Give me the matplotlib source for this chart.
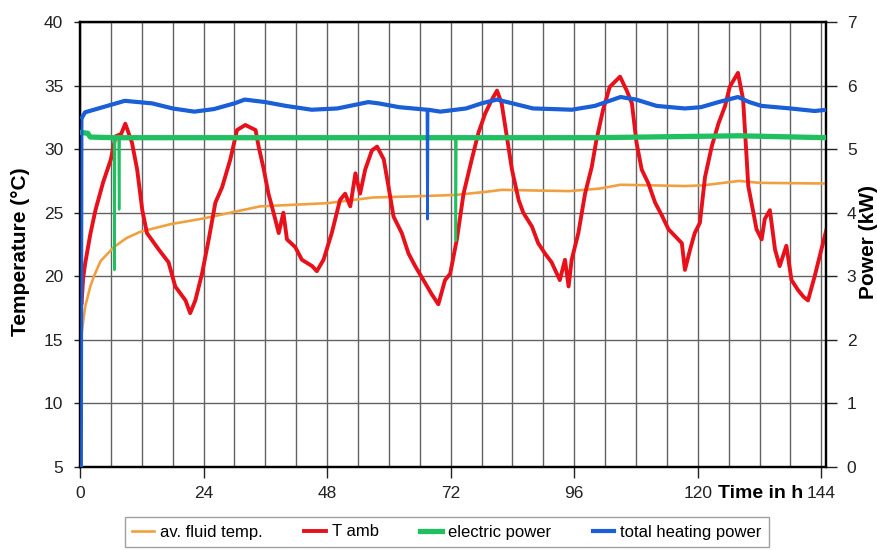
import matplotlib
matplotlib.use("Agg")
import matplotlib.pyplot as plt
import numpy as np
from matplotlib.ticker import MultipleLocator

plt.rcParams['font.family'] = ['Liberation Sans', 'DejaVu Sans']

# ---- data ----
tamb_h = [0.0, 0.3, 0.6, 1.0, 2.0, 3.0, 4.5, 6.0, 6.9, 8.0, 8.8, 9.5, 10.1, 11.1, 12.1, 13.0,
          15.3, 17.2, 18.5, 20.5, 21.4, 22.4, 23.7, 25.0, 26.3, 27.6, 29.2, 30.5, 32.1, 34.1,
          34.7, 35.7, 36.6, 37.6, 38.6, 39.5, 40.2, 41.8, 43.1, 45.1, 46.0, 47.3, 48.9, 50.5,
          51.5, 52.5, 53.5, 54.4, 55.4, 56.7, 57.7, 59.0, 59.9, 60.9, 62.5, 63.8, 65.1, 67.0,
          68.3, 69.6, 70.9, 71.9, 73.2, 74.5, 76.1, 77.4, 78.7, 80.0, 81.0, 81.9, 82.9, 83.9,
          85.2, 86.1, 87.8, 89.0, 90.3, 91.6, 93.2, 94.2, 94.9, 95.5, 96.8, 98.1, 99.4, 100.3,
          101.6, 102.9, 104.9, 106.2, 107.2, 108.1, 109.1, 110.4, 111.7, 113.0, 114.3, 116.2,
          116.9, 117.5, 118.5, 119.4, 120.4, 121.4, 122.7, 124.0, 125.3, 126.2, 127.8, 128.8,
          129.5, 129.8, 130.8, 131.4, 132.4, 133.0, 134.0, 135.0, 135.9, 137.2, 138.2, 139.5,
          140.5, 141.4, 142.7, 144.0, 145.0]
tamb_t = [18.2, 17.8, 19.8, 21.0, 23.3, 25.2, 27.4, 29.2, 31.0, 31.2, 32.0, 31.2, 30.5, 28.4, 25.2, 23.4,
          22.1, 21.1, 19.2, 18.1, 17.1, 18.1, 20.2, 22.9, 25.8, 27.0, 29.2, 31.5, 31.9, 31.5,
          30.2, 28.4, 26.5, 25.0, 23.4, 25.0, 22.9, 22.3, 21.3, 20.8, 20.4, 21.3, 23.4, 26.0,
          26.5, 25.5, 28.1, 26.5, 28.4, 29.9, 30.2, 29.2, 27.1, 24.7, 23.4, 21.8, 20.8, 19.5,
          18.6, 17.8, 19.7, 20.2, 22.9, 26.5, 29.2, 31.3, 32.8, 33.9, 34.6, 33.6, 31.0, 28.4,
          26.0, 25.0, 23.9, 22.6, 21.8, 21.1, 19.7, 21.3, 19.2, 21.3, 23.4, 26.5, 28.6, 30.7,
          33.1, 34.9, 35.7, 34.6, 33.6, 30.5, 28.4, 27.3, 25.8, 24.8, 23.7, 22.9,
          22.6, 20.5, 22.1, 23.4, 24.2, 27.8, 30.2, 32.0, 33.4, 34.9, 36.0, 33.9,
          29.2, 27.1, 25.0, 23.7, 22.9, 24.5, 25.2, 22.1, 20.8, 22.4, 19.7, 18.9,
          18.4, 18.1, 20.0, 22.1, 23.7]

fluid_h = [0.0, 0.3, 1.0, 2.0, 2.7, 4.0, 6.6, 9.0, 11.7, 17.6, 24.0, 28.0, 35.0, 48.0, 57.0,
           66.0, 73.0, 79.0, 82.0, 88.0, 95.0, 101.0, 105.0, 117.5, 121.0, 128.0, 132.0, 144.0, 145.0]
fluid_t = [13.6, 15.5, 17.6, 19.2, 20.0, 21.2, 22.3, 23.0, 23.5, 24.1, 24.55, 24.9, 25.5, 25.75, 26.2,
           26.3, 26.4, 26.65, 26.8, 26.75, 26.7, 26.9, 27.2, 27.1, 27.15, 27.5, 27.35, 27.3, 27.3]

elec_h = [0.4, 1.5, 2.0, 6.6, 6.7, 6.8, 7.5, 7.6, 7.7, 30.0, 60.0, 72.9, 73.0, 73.1, 100.0, 128.0, 145.0]
elec_p = [5.26, 5.25, 5.19, 5.18, 3.1, 5.18, 5.18, 4.05, 5.18, 5.18, 5.18, 5.18, 3.56, 5.18, 5.18, 5.21, 5.18]

heat_h = [0.0, 0.3, 0.4, 1.0, 4.0, 8.7, 14.0, 18.0, 22.2, 26.0, 30.0, 32.0, 36.0, 40.0, 45.0,
          50.0, 56.0, 58.0, 62.0, 67.4, 67.5, 67.6, 70.0, 75.0, 78.0, 81.0, 84.0, 88.0, 92.0,
          95.5, 100.0, 105.0, 108.0, 112.0, 117.5, 120.6, 124.0, 127.8, 130.0, 132.4, 138.0,
          142.7, 145.0]
heat_p = [0.0, 0.0, 5.5, 5.58, 5.65, 5.76, 5.72, 5.64, 5.59, 5.63, 5.72, 5.78, 5.74, 5.68, 5.62,
          5.64, 5.74, 5.72, 5.66, 5.62, 3.9, 5.62, 5.59, 5.64, 5.72, 5.78, 5.72, 5.64, 5.63,
          5.62, 5.68, 5.82, 5.78, 5.68, 5.64, 5.66, 5.74, 5.82, 5.74, 5.68, 5.64,
          5.6, 5.62]

x_ticks = [0, 24, 48, 72, 96, 120, 144]
t_ticks = [5, 10, 15, 20, 25, 30, 35, 40]
p_ticks = [0, 1, 2, 3, 4, 5, 6, 7]

# ---- figure ----
fig = plt.figure(figsize=(8.77, 5.5), dpi=100)
ax = fig.add_axes([80/877, 1-467/550, 746/877, 445/550])
ax2 = ax.twinx()

ax.set_xlim(0, 144.9)
ax.set_ylim(5, 40)
ax2.set_ylim(0, 7)

gridc = '#626262'
ax.xaxis.set_minor_locator(MultipleLocator(6))
ax.set_xticks(x_ticks)
ax.set_yticks(t_ticks)
ax2.set_yticks(p_ticks)
ax.grid(True, which='both', axis='x', color=gridc, lw=1.0)
ax.grid(True, which='major', axis='y', color=gridc, lw=1.0)
ax.set_axisbelow(True)

green = '#20c060'
blue = '#1a5fd8'

ax.plot(fluid_h, fluid_t, color='#f0a040', lw=1.9, zorder=3, label='av. fluid temp.')
ax.plot(tamb_h, tamb_t, color='#e8101a', lw=2.8, zorder=4, label='T amb')

# electric power: thin line through all samples (shows the short drops), thick band for the plateau
ax2.plot(elec_h, elec_p, color=green, lw=1.8, zorder=3)
ep = np.array(elec_p)
ax2.plot(np.array(elec_h)[ep > 5], ep[ep > 5], color=green, lw=3.8, zorder=3, label='electric power')

# total heating power: thin line through all samples, thick line for the steady part
hp = np.array(heat_p)
ax2.plot(heat_h, heat_p, color=blue, lw=2.0, zorder=4)
ax2.plot(np.array(heat_h)[hp > 5], hp[hp > 5], color=blue, lw=3.0, zorder=4, label='total heating power')

for a in (ax, ax2):
    for s in a.spines.values():
        s.set_color('black')
        s.set_linewidth(1.6)

ax.tick_params(axis='x', which='major', direction='out', length=8, width=1, labelsize=12.5, pad=6, colors='#222222')
ax.tick_params(axis='x', which='minor', length=0)
ax.tick_params(axis='y', direction='out', length=4, width=1, labelsize=12.5, pad=8, colors='#222222')
ax2.tick_params(axis='y', direction='out', length=8, width=1, labelsize=12.5, pad=7, colors='#222222')

fig.text(21/877, 1-252/550, 'Temperature (°C)', rotation=90, ha='center', va='center',
         fontsize=15, fontweight='bold')
fig.text(868/877, 1-242/550, 'Power (kW)', rotation=90, ha='center', va='center',
         fontsize=15, fontweight='bold')
fig.text(761/877, 1-493/550, 'Time in h', ha='center', va='center', fontsize=14, fontweight='bold')

h1, l1 = ax.get_legend_handles_labels()
h2, l2 = ax2.get_legend_handles_labels()
leg = fig.legend(h1 + h2, l1 + l2, loc='upper center', bbox_to_anchor=(447/877, 1-517/550),
                 ncol=4, frameon=True, fancybox=False, edgecolor='#888888', fontsize=12,
                 handlelength=1.3, handletextpad=0.35, columnspacing=2.5, borderpad=0.45,
                 borderaxespad=0.0)
leg.get_frame().set_linewidth(1.0)

fig.savefig('out.png', dpi=100)
